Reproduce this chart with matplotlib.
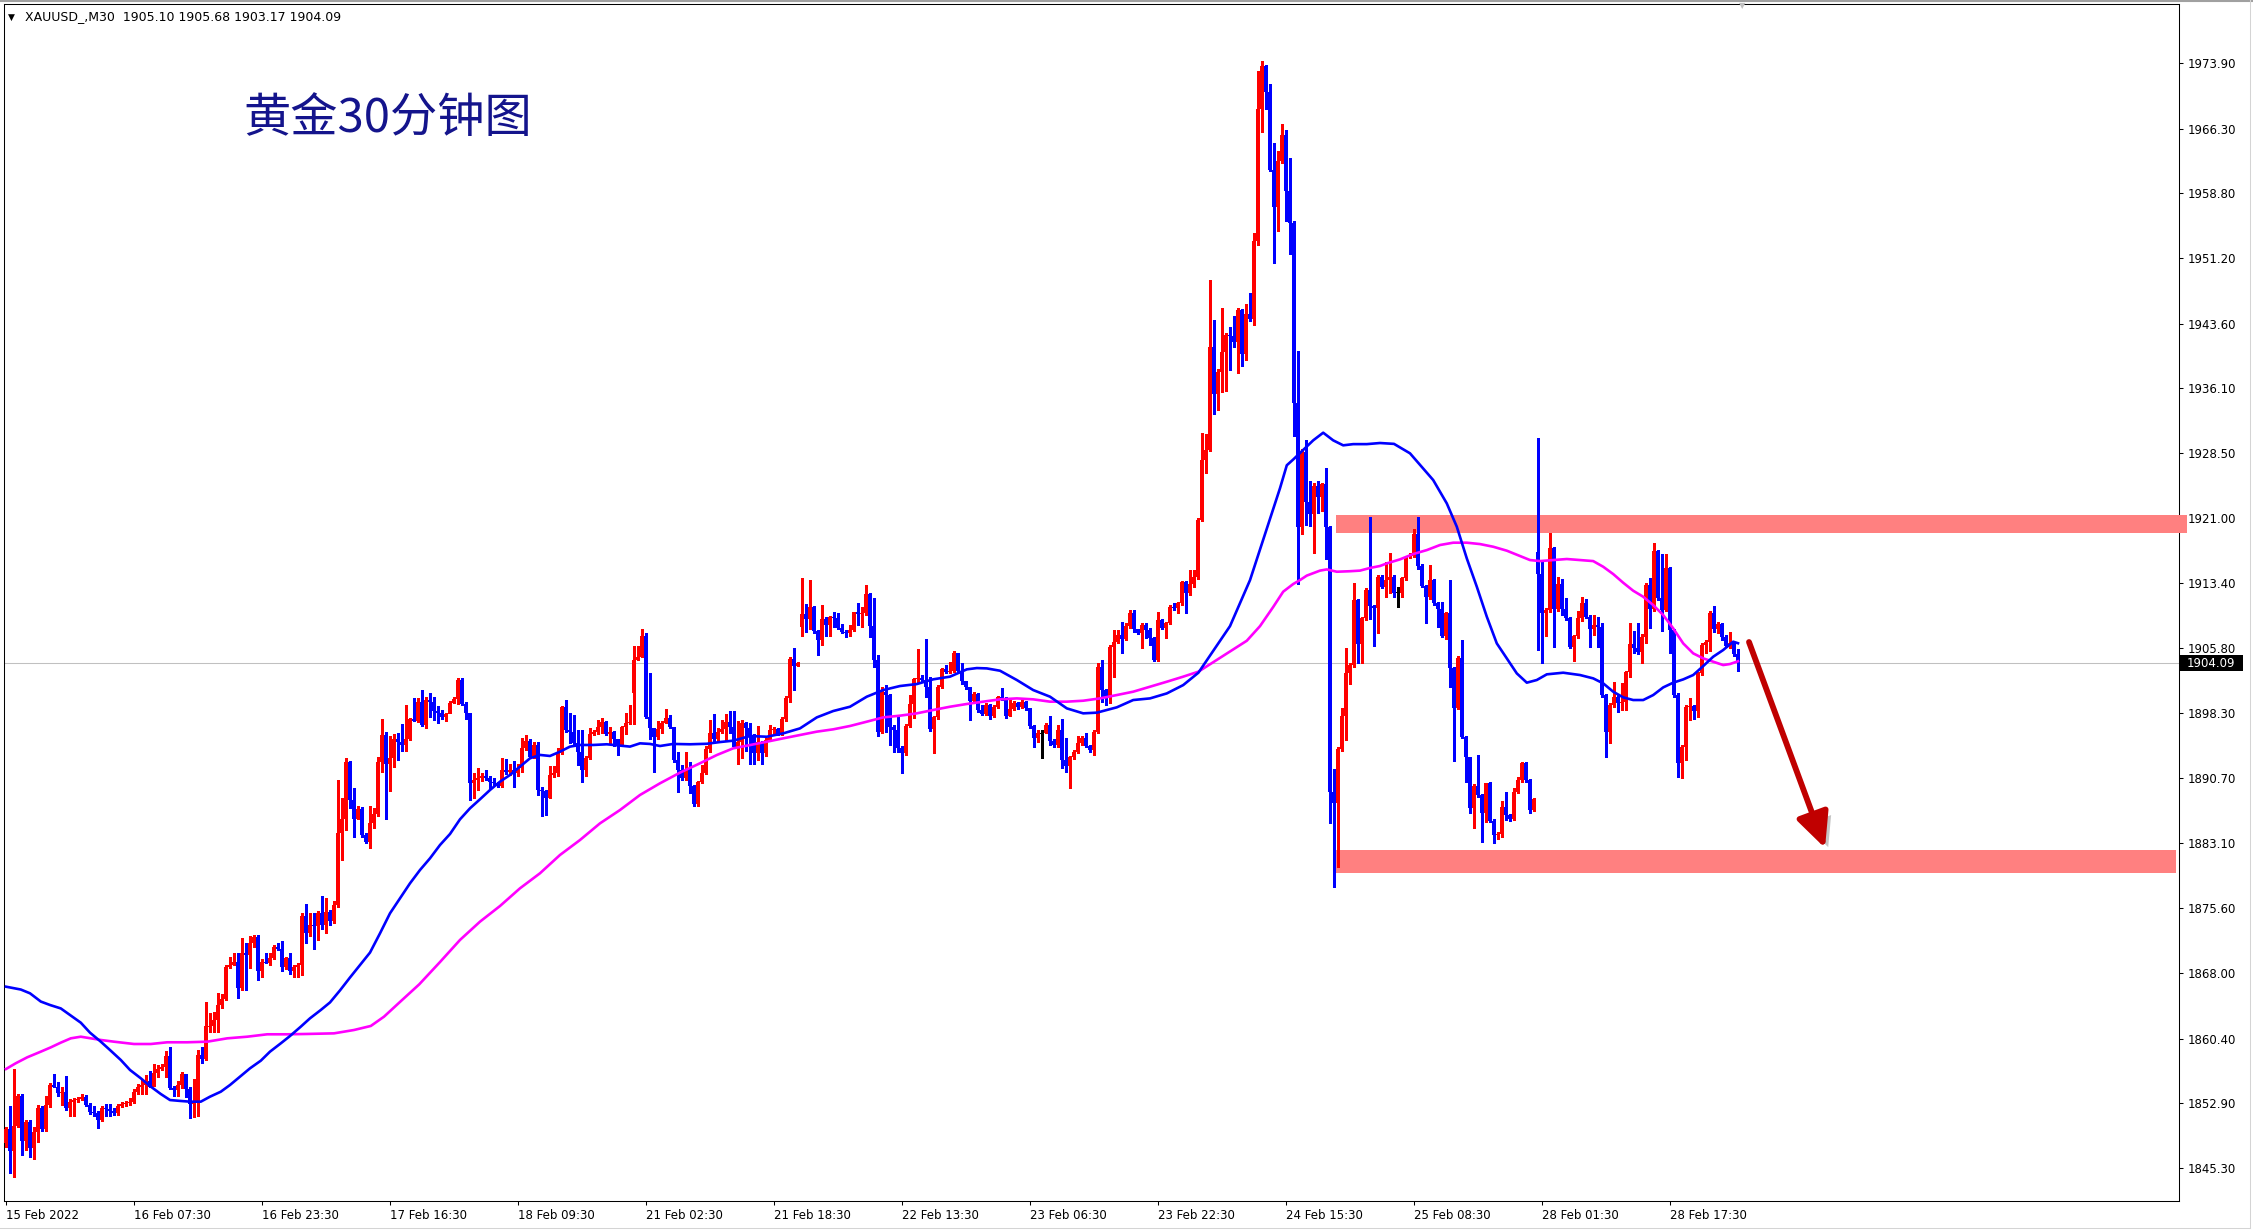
import matplotlib
matplotlib.use('Agg')
import matplotlib.pyplot as plt
from matplotlib.patches import Rectangle, FancyArrowPatch
from matplotlib.lines import Line2D
from matplotlib.transforms import blended_transform_factory
import matplotlib.patheffects as pe

# XAUUSD M30 candles, bar 0 = 15 Feb 2022 15:30
first_open = 1848.2
gap_opens = {157: 1900.65, 199: 1908.32, 383: 1917.05}

closes = [
    1849.87, 1847.35, 1850.2, 1853.75, 1848.5, 1850.65, 1847.7, 1849.55, 1852.3, 1849.85,  # 0
    1852.65, 1855.0, 1854.8, 1854.1, 1854.2, 1852.3, 1853.05, 1853.25, 1853.35, 1853.65,  # 10
    1852.65, 1851.8, 1851.7, 1850.9, 1852.3, 1852.15, 1852.0, 1851.7, 1852.55, 1852.75,  # 20
    1852.85, 1853.05, 1854.2, 1854.8, 1855.0, 1855.45, 1854.8, 1856.35, 1856.85, 1857.1,  # 30
    1858.35, 1854.6, 1854.4, 1855.0, 1856.25, 1854.5, 1852.8, 1852.95, 1858.5, 1858.0,  # 40
    1861.8, 1861.9, 1862.55, 1864.3, 1864.95, 1868.7, 1868.95, 1869.25, 1866.25, 1870.3,  # 50
    1870.1, 1871.5, 1872.2, 1868.3, 1869.35, 1869.2, 1869.75, 1871.1, 1870.8, 1868.7,  # 60
    1869.75, 1868.3, 1868.75, 1868.95, 1874.6, 1872.65, 1873.6, 1873.5, 1874.97, 1873.6,  # 70
    1875.1, 1874.1, 1875.9, 1884.3, 1886.0, 1892.6, 1888.2, 1886.0, 1887.1, 1884.1,  # 80
    1883.3, 1885.45, 1886.5, 1892.6, 1895.7, 1892.4, 1893.1, 1895.3, 1894.95, 1894.55,  # 90
    1895.3, 1897.55, 1897.4, 1899.6, 1896.9, 1899.8, 1899.6, 1898.55, 1898.3, 1897.8,  # 100
    1898.2, 1899.4, 1899.9, 1902.1, 1899.3, 1898.25, 1890.1, 1890.5, 1890.7, 1890.95,  # 110
    1890.7, 1890.2, 1890.1, 1889.8, 1891.6, 1891.45, 1891.7, 1891.25, 1891.85, 1894.2,  # 120
    1895.0, 1893.2, 1894.55, 1889.3, 1889.25, 1888.35, 1891.05, 1891.25, 1893.6, 1899.0,  # 130
    1896.3, 1896.1, 1894.75, 1893.8, 1891.6, 1893.0, 1895.85, 1896.1, 1896.6, 1897.2,  # 140
    1895.85, 1896.1, 1895.2, 1894.55, 1896.7, 1897.1, 1897.15, 1904.5, 1904.75, 1907.25,  # 150
    1897.85, 1896.5, 1895.45, 1896.4, 1897.15, 1897.65, 1896.7, 1892.8, 1891.65, 1890.7,  # 160
    1891.6, 1889.8, 1887.7, 1890.2, 1891.35, 1894.05, 1895.9, 1895.2, 1896.1, 1896.4,  # 170
    1897.2, 1896.7, 1894.36, 1894.94, 1897.07, 1896.5, 1895.6, 1893.66, 1894.86, 1893.58,  # 180
    1895.13, 1896.3, 1896.38, 1895.83, 1897.58, 1899.99, 1904.52, 1903.75, 1904.06, 1909.76,  # 190
    1909.2, 1910.57, 1907.82, 1906.77, 1909.2, 1908.5, 1909.41, 1909.37, 1908.21, 1907.74,  # 200
    1907.55, 1907.94, 1909.99, 1909.8, 1909.88, 1912.13, 1908.4, 1904.44, 1896.1, 1900.76,  # 210
    1900.37, 1896.69, 1896.3, 1894.17, 1893.58, 1896.77, 1899.33, 1902.2, 1902.31, 1902.12,  # 220
    1901.26, 1896.38, 1897.77, 1901.34, 1903.36, 1903.09, 1903.2, 1905.22, 1903.2, 1902.04,  # 230
    1901.26, 1899.71, 1900.49, 1898.63, 1898.16, 1899.21, 1897.93, 1899.01, 1900.18, 1899.98,  # 240
    1897.93, 1898.7, 1899.48, 1899.01, 1899.6, 1898.82, 1896.77, 1895.33, 1895.91, 1895.91,  # 250
    1896.88, 1895.06, 1894.55, 1896.3, 1892.81, 1892.11, 1893.12, 1893.78, 1894.75, 1895.33,  # 260
    1894.44, 1893.97, 1896.11, 1903.67, 1900.95, 1899.98, 1905.92, 1906.58, 1907.35, 1906.93,  # 270
    1908.4, 1909.95, 1908.01, 1907.63, 1908.52, 1907.94, 1906.97, 1904.44, 1909.1, 1908.13,  # 280
    1908.71, 1910.57, 1910.45, 1911.04, 1913.48, 1912.2, 1913.29, 1914.06, 1920.74, 1927.78,  # 290
    1928.9, 1940.9, 1935.36, 1938.0, 1940.27, 1942.27, 1942.2, 1941.47, 1945.17, 1940.04,  # 300
    1944.7, 1944.14, 1953.2, 1968.57, 1973.57, 1970.58, 1961.44, 1957.21, 1962.56, 1965.54,  # 310
    1958.99, 1955.29, 1934.34, 1919.89, 1928.67, 1922.88, 1921.41, 1924.66, 1923.46, 1924.88,  # 320
    1919.89, 1889.12, 1887.76, 1894.05, 1897.93, 1902.97, 1903.86, 1911.43, 1906.3, 1909.29,  # 330
    1912.59, 1910.73, 1910.46, 1914.14, 1912.98, 1913.75, 1914.14, 1912.28, 1912.28, 1913.95,  # 340
    1916.47, 1916.55, 1919.1, 1915.38, 1913.06, 1911.74, 1913.75, 1911.04, 1910.34, 1907.24,  # 350
    1909.87, 1903.47, 1898.82, 1904.64, 1895.52, 1893.12, 1887.18, 1889.78, 1888.73, 1886.6,  # 360
    1890.09, 1885.75, 1884.08, 1884.2, 1887.3, 1886.41, 1885.9, 1889.12, 1890.48, 1892.5,  # 370
    1890.48, 1886.99, 1888.23, 1914.41, 1909.95, 1910.26, 1917.44, 1910.34, 1913.29, 1910.34,  # 380
    1909.29, 1905.99, 1907.24, 1909.29, 1911.11, 1909.49, 1908.01, 1908.52, 1908.32, 1900.37,  # 390
    1896.1, 1899.21, 1900.18, 1899.48, 1899.6, 1903.09, 1906.3, 1905.8, 1905.41, 1907.16,  # 400
    1913.17, 1910.34, 1917.17, 1911.62, 1910.26, 1915.11, 1907.94, 1900.37, 1892.42, 1894.36,  # 410
    1899.01, 1899.09, 1898.55, 1902.89, 1906.19, 1906.58, 1909.87, 1908.01, 1908.63, 1907.16,  # 420
    1906.07, 1906.46, 1905.1, 1904.09,  # 430
]

highs = [
    1850.1, 1852.5, 1856.9, 1854.0, 1854.0, 1850.9, 1850.9, 1850.1, 1852.65, 1852.5,
    1853.75, 1855.2, 1856.3, 1855.3, 1854.8, 1856.05, 1853.4, 1853.5, 1853.6, 1854.0,
    1853.8, 1852.9, 1852.6, 1852.0, 1852.5, 1852.75, 1852.75, 1852.3, 1852.8, 1853.0,
    1853.1, 1853.5, 1854.5, 1855.05, 1855.6, 1856.15, 1856.6, 1857.4, 1857.3, 1857.4,
    1858.9, 1859.45, 1854.9, 1855.4, 1856.5, 1856.3, 1854.8, 1855.7, 1859.05, 1859.4,
    1864.7, 1863.4, 1863.5, 1865.7, 1865.6, 1869.0, 1869.9, 1870.3, 1870.3, 1872.05,
    1871.5, 1872.3, 1872.4, 1872.4, 1869.6, 1870.3, 1870.3, 1871.3, 1871.5, 1871.7,
    1869.9, 1870.3, 1869.0, 1869.2, 1875.0, 1876.1, 1874.97, 1875.0, 1875.2, 1877.0,
    1876.7, 1875.3, 1876.45, 1890.5, 1888.35, 1893.1, 1892.7, 1889.5, 1887.4, 1887.3,
    1884.3, 1887.45, 1887.2, 1893.2, 1897.55, 1896.1, 1895.6, 1895.8, 1895.9, 1897.0,
    1899.2, 1897.7, 1900.0, 1900.0, 1900.96, 1900.1, 1900.6, 1900.2, 1899.1, 1898.6,
    1898.3, 1899.7, 1900.1, 1902.3, 1902.3, 1899.6, 1898.3, 1891.3, 1891.85, 1891.3,
    1891.65, 1891.0, 1890.7, 1890.3, 1893.1, 1892.9, 1892.4, 1892.7, 1892.35, 1895.35,
    1895.7, 1895.2, 1894.95, 1894.95, 1889.7, 1889.3, 1892.1, 1892.1, 1894.2, 1899.1,
    1899.8, 1898.25, 1898.05, 1896.3, 1896.3, 1893.3, 1896.5, 1896.3, 1897.5, 1897.65,
    1897.3, 1896.7, 1896.2, 1895.3, 1896.8, 1898.25, 1899.2, 1906.1, 1906.1, 1908.0,
    1907.55, 1902.9, 1896.5, 1897.4, 1897.4, 1898.8, 1898.05, 1896.7, 1893.7, 1892.2,
    1893.7, 1892.6, 1889.9, 1890.4, 1892.2, 1894.4, 1897.5, 1898.2, 1896.5, 1897.5,
    1898.2, 1898.5, 1898.5, 1897.3, 1897.46, 1897.27, 1897.15, 1895.8, 1896.77, 1895.0,
    1895.4, 1896.9, 1896.7, 1896.5, 1897.8, 1900.3, 1904.75, 1905.8, 1904.2, 1913.95,
    1910.96, 1913.75, 1910.77, 1907.9, 1910.85, 1909.5, 1909.6, 1910.07, 1909.95, 1908.6,
    1907.9, 1908.52, 1910.07, 1911.04, 1910.65, 1913.17, 1912.2, 1911.62, 1905.0, 1901.34,
    1901.5, 1900.5, 1896.9, 1897.85, 1894.4, 1897.0, 1900.37, 1902.39, 1905.72, 1902.7,
    1906.85, 1902.5, 1897.9, 1901.5, 1903.55, 1903.86, 1904.25, 1905.53, 1905.3, 1904.06,
    1902.04, 1901.3, 1900.7, 1900.57, 1899.2, 1899.4, 1899.3, 1899.2, 1900.26, 1901.15,
    1900.1, 1899.87, 1899.7, 1899.6, 1899.8, 1899.7, 1898.9, 1896.9, 1896.3, 1896.3,
    1897.15, 1897.97, 1895.2, 1896.88, 1897.54, 1895.33, 1893.3, 1894.0, 1895.6, 1895.6,
    1895.91, 1894.6, 1896.3, 1904.13, 1904.44, 1901.1, 1906.2, 1907.94, 1907.94, 1908.91,
    1908.71, 1910.26, 1910.26, 1908.1, 1908.7, 1908.71, 1908.13, 1907.1, 1910.07, 1909.18,
    1908.9, 1910.8, 1911.04, 1911.2, 1913.6, 1913.6, 1914.92, 1914.92, 1921.0, 1930.9,
    1930.7, 1948.7, 1944.05, 1938.3, 1945.4, 1942.5, 1943.2, 1944.5, 1945.4, 1945.3,
    1945.9, 1947.2, 1954.1, 1973.03, 1974.15, 1973.7, 1971.47, 1964.65, 1963.67, 1966.88,
    1966.12, 1962.87, 1955.5, 1940.4, 1929.0, 1930.0, 1925.33, 1925.0, 1925.33, 1925.1,
    1926.76, 1920.0, 1891.8, 1894.3, 1898.82, 1905.8, 1904.1, 1913.37, 1911.6, 1909.5,
    1912.78, 1921.12, 1910.9, 1914.3, 1914.3, 1915.9, 1916.93, 1914.3, 1912.9, 1914.1,
    1916.6, 1916.86, 1919.65, 1921.05, 1915.6, 1913.2, 1915.5, 1913.9, 1911.23, 1911.23,
    1910.0, 1913.75, 1903.6, 1904.91, 1906.77, 1895.6, 1893.2, 1890.0, 1893.39, 1888.9,
    1890.17, 1890.28, 1885.9, 1884.4, 1888.07, 1889.12, 1886.5, 1889.51, 1890.87, 1892.61,
    1892.6, 1890.6, 1888.4, 1930.28, 1916.1, 1910.5, 1919.18, 1917.6, 1914.14, 1913.83,
    1911.62, 1909.4, 1907.4, 1910.2, 1911.74, 1911.5, 1909.7, 1909.68, 1909.49, 1908.7,
    1900.5, 1899.4, 1901.92, 1900.4, 1901.73, 1903.2, 1908.79, 1907.86, 1908.7, 1907.47,
    1913.4, 1913.95, 1918.1, 1917.3, 1916.78, 1916.78, 1915.3, 1908.1, 1900.6, 1894.6,
    1899.2, 1899.98, 1899.2, 1903.1, 1906.4, 1906.77, 1910.1, 1910.73, 1908.9, 1908.71,
    1907.4, 1907.74, 1906.6, 1905.68,
]

lows = [
    1847.8, 1844.7, 1844.3, 1850.1, 1846.85, 1847.4, 1846.65, 1846.35, 1848.3, 1849.6,
    1849.6, 1852.4, 1854.7, 1853.75, 1852.65, 1852.1, 1851.4, 1851.4, 1853.0, 1853.2,
    1852.5, 1851.6, 1851.4, 1850.0, 1850.8, 1851.4, 1851.4, 1851.5, 1851.5, 1852.4,
    1852.6, 1852.7, 1852.9, 1853.95, 1853.95, 1853.9, 1854.7, 1854.9, 1855.9, 1856.7,
    1855.9, 1854.5, 1853.75, 1853.75, 1854.6, 1853.55, 1851.2, 1851.3, 1851.4, 1857.5,
    1857.9, 1861.2, 1861.2, 1861.2, 1864.0, 1864.9, 1868.6, 1868.9, 1865.1, 1866.0,
    1866.0, 1868.6, 1871.0, 1867.2, 1867.6, 1869.15, 1868.95, 1869.7, 1870.7, 1868.2,
    1868.5, 1867.9, 1867.6, 1867.6, 1867.8, 1871.5, 1872.3, 1870.8, 1871.9, 1873.2,
    1872.7, 1873.6, 1873.9, 1875.7, 1881.2, 1884.7, 1887.2, 1883.9, 1885.9, 1883.9,
    1883.1, 1882.6, 1884.9, 1886.3, 1891.45, 1885.9, 1889.25, 1892.0, 1892.8, 1893.9,
    1893.9, 1895.1, 1897.3, 1897.2, 1896.8, 1896.5, 1897.85, 1897.5, 1897.1, 1897.55,
    1897.3, 1898.3, 1899.4, 1899.3, 1899.2, 1897.55, 1888.1, 1888.35, 1889.3, 1890.4,
    1890.5, 1889.4, 1889.9, 1889.7, 1889.7, 1891.2, 1891.1, 1889.7, 1890.9, 1891.4,
    1894.0, 1893.0, 1893.1, 1888.75, 1886.3, 1886.4, 1888.4, 1890.8, 1890.9, 1893.5,
    1896.1, 1894.75, 1894.4, 1892.2, 1890.2, 1890.9, 1892.9, 1895.7, 1895.8, 1895.9,
    1895.7, 1894.8, 1894.4, 1893.4, 1894.4, 1895.85, 1897.0, 1897.0, 1904.4, 1904.75,
    1897.7, 1895.3, 1891.45, 1895.3, 1895.9, 1897.1, 1896.5, 1892.6, 1889.1, 1890.5,
    1890.5, 1888.95, 1887.5, 1887.4, 1890.1, 1891.2, 1893.7, 1894.9, 1895.0, 1896.0,
    1895.1, 1895.9, 1894.2, 1892.3, 1893.0, 1893.86, 1892.3, 1892.3, 1892.8, 1892.3,
    1893.3, 1895.1, 1896.0, 1895.7, 1895.7, 1897.4, 1899.6, 1900.95, 1903.7, 1907.2,
    1907.74, 1908.05, 1907.63, 1905.03, 1906.2, 1907.24, 1907.24, 1908.32, 1908.01, 1907.6,
    1907.08, 1907.24, 1907.8, 1908.52, 1908.32, 1909.7, 1907.16, 1903.67, 1895.64, 1896.0,
    1896.1, 1894.55, 1893.78, 1893.8, 1891.26, 1893.4, 1896.6, 1897.66, 1901.9, 1901.9,
    1900.18, 1896.2, 1893.66, 1897.6, 1901.2, 1902.9, 1902.9, 1903.0, 1903.0, 1901.6,
    1901.1, 1897.46, 1899.5, 1898.4, 1898.0, 1898.0, 1897.54, 1897.8, 1898.9, 1899.8,
    1897.7, 1897.9, 1898.63, 1898.8, 1898.9, 1898.6, 1896.5, 1894.36, 1894.94, 1893.0,
    1895.9, 1894.55, 1894.3, 1894.36, 1891.84, 1891.45, 1889.51, 1892.9, 1893.6, 1894.6,
    1894.3, 1893.78, 1893.39, 1895.9, 1899.6, 1899.21, 1899.4, 1902.5, 1906.4, 1905.22,
    1906.8, 1908.2, 1907.74, 1907.5, 1905.8, 1906.97, 1906.19, 1904.3, 1904.3, 1908.0,
    1906.97, 1908.6, 1910.3, 1909.95, 1910.9, 1909.88, 1912.0, 1912.98, 1913.9, 1920.6,
    1926.2, 1928.8, 1933.1, 1933.6, 1935.6, 1935.7, 1938.2, 1940.9, 1937.8, 1938.7,
    1939.4, 1943.9, 1943.4, 1952.75, 1965.9, 1968.57, 1961.3, 1950.65, 1954.4, 1962.3,
    1955.56, 1951.72, 1930.46, 1913.3, 1919.1, 1920.2, 1920.07, 1916.86, 1921.54, 1921.8,
    1916.2, 1885.44, 1878.07, 1880.4, 1893.9, 1895.1, 1901.7, 1903.6, 1904.06, 1904.06,
    1909.1, 1909.18, 1906.07, 1907.62, 1912.8, 1911.8, 1912.3, 1911.74, 1910.65, 1911.74,
    1913.8, 1916.3, 1916.4, 1914.99, 1912.9, 1908.79, 1911.6, 1910.9, 1908.24, 1907.1,
    1906.85, 1901.34, 1892.73, 1898.7, 1895.4, 1890.28, 1886.6, 1884.86, 1888.5, 1883.3,
    1885.63, 1885.6, 1883.19, 1883.57, 1883.9, 1885.82, 1885.7, 1885.8, 1889.0, 1890.3,
    1890.3, 1886.6, 1886.9, 1905.6, 1904.13, 1907.24, 1910.0, 1906.0, 1910.2, 1909.68,
    1909.1, 1905.8, 1904.37, 1907.0, 1909.0, 1909.3, 1905.99, 1907.35, 1905.99, 1900.2,
    1893.2, 1894.75, 1899.0, 1898.43, 1898.63, 1898.6, 1902.5, 1905.22, 1905.2, 1904.13,
    1906.38, 1908.13, 1910.2, 1911.4, 1907.86, 1910.1, 1905.22, 1900.2, 1890.87, 1890.67,
    1892.81, 1897.46, 1897.54, 1897.77, 1902.7, 1905.22, 1905.5, 1907.74, 1907.62, 1906.77,
    1906.0, 1905.9, 1904.9, 1903.17,
]

# moving averages (bar position, price)
ma_blue_bars = [
    0, 3.7, 6, 8.7, 11, 13.7, 16, 18.7, 21, 23.7, 26, 28.7, 31, 33.7, 36, 38.7,
    41, 43.7, 46, 48.7, 51, 53.7, 56, 58.7, 61, 63.7, 66, 68.7, 71, 73.7, 76, 78.7,
    81, 83.5, 86, 88.5, 91, 93.5, 96, 98.5, 101, 103.5, 106, 108.5, 111, 113.5, 116, 118.5,
    121, 123.5, 126, 128.5, 131, 133.5, 136, 138.5, 141, 143.5, 146.8, 150.2, 153.5, 156,
    158.5, 161, 163.5, 166.8, 171, 175.2, 178.5, 181.8, 186, 190.2, 194.3, 198.5, 202.7, 206.8,
    211, 215.2, 219.3, 223.5, 227.7, 231.8, 236, 240.2, 242.7, 245.2, 248.5, 252.7, 256.8, 261,
    265.2, 269.3, 272.7, 277.7, 281.8, 286, 290.2, 294.3, 298.1, 303.5, 306, 308.5, 311, 313.5,
    316, 318.5, 320.2, 321.8, 324.3, 326.8, 329.3, 331.8, 334.3, 336.8, 340.2, 343.5, 347, 351,
    354, 356.8, 360.2, 362.7, 365.2, 367.7, 370.2, 372.7, 375.2, 377.7, 380.2, 382.7, 385.2, 389.3,
    393.5, 396.8, 399.3, 401.8, 404.3, 406.8, 409.3, 411.8, 414.3, 416.8, 419.3, 421.8, 424.3, 426.8,
    429.3, 431.8, 433,
]
ma_blue_vals = [
    1866.43, 1866.1, 1865.66, 1864.7, 1864.3, 1863.9, 1863.14, 1862.24, 1861.08, 1860.03, 1859.06, 1857.9, 1856.74, 1855.77, 1854.87, 1853.94,
    1853.24, 1853.13, 1853.05, 1853.05, 1853.63, 1854.21, 1854.99, 1856.04, 1856.93, 1857.82, 1858.87, 1859.84, 1860.69, 1861.78, 1862.75, 1863.72,
    1864.6, 1866.0, 1867.5, 1868.96, 1870.4, 1872.64, 1874.97, 1876.72, 1878.46, 1880.01, 1881.37, 1882.92, 1884.2, 1885.91, 1887.19, 1888.24,
    1889.32, 1890.29, 1891.07, 1892.04, 1893.01, 1893.4, 1893.28, 1893.78, 1894.37, 1894.56, 1894.56, 1894.64, 1894.48, 1894.37,
    1894.75, 1894.68, 1894.44, 1894.68, 1894.64, 1894.7, 1894.9, 1895.06, 1895.6, 1895.52, 1895.91, 1896.49, 1897.77, 1898.51,
    1899.01, 1900.18, 1900.95, 1901.42, 1901.65, 1902.2, 1902.51, 1903.36, 1903.51, 1903.47, 1903.2, 1902.12, 1900.95, 1900.18,
    1898.82, 1898.24, 1898.32, 1898.94, 1899.79, 1899.98, 1900.56, 1901.53, 1902.97, 1906.69, 1908.39, 1911.06, 1913.74, 1917.31,
    1920.87, 1924.44, 1927.11, 1927.78, 1928.9, 1930.01, 1930.9, 1930.01, 1929.43, 1929.57, 1929.57, 1929.7, 1929.6, 1928.5,
    1926.9, 1925.39, 1922.67, 1919.96, 1916.27, 1912.98, 1909.49, 1906.38, 1904.64, 1902.89, 1901.81, 1902.12, 1902.78, 1902.97,
    1902.7, 1902.31, 1901.73, 1900.76, 1900.1, 1899.79, 1899.79, 1900.37, 1901.26, 1901.81, 1902.19, 1902.7, 1903.74, 1904.83,
    1905.61, 1906.58, 1906.4,
]

ma_pink_bars = [
    0, 2.4, 5.3, 8.7, 11.2, 13.7, 16.2, 18.7, 21.2, 23.7, 27, 32, 36.2, 40.3, 45.3, 50.3,
    55.3, 60.3, 65.3, 70.3, 75.3, 82, 87, 91.2, 94.5, 98.6, 103.3, 108.5, 113.5, 118.5, 123.5, 128.5,
    133.5, 138.5, 143.5, 148.5, 153.5, 158.5, 163.5, 168.5, 173.5, 177.7, 181.8, 186, 190.2, 194.3,
    198.5, 202.7, 206.8, 211, 215.2, 219.3, 223.5, 227.7, 231.8, 236, 240.2, 244.3, 248.5, 252.7,
    256.8, 261, 265.2, 269.3, 273.5, 277.7, 281.8, 286, 290.2, 294.3, 298.1, 310.2, 313.5, 316.8,
    319.3, 321.8, 323.5, 325.2, 328.5, 330.2, 332.7, 336, 338.5, 341, 343.5, 345.2, 348.5, 351.8,
    355.2, 358.5, 361.8, 365.2, 368.5, 371.8, 375.2, 378.5, 381, 383.5, 386.8, 390.2, 393.5, 396.8,
    399.3, 401.8, 404.3, 406.8, 409.3, 411.8, 414.3, 416.8, 419.3, 421.8, 424.3, 426.8, 429.3, 431, 433,
]
ma_pink_vals = [
    1856.85, 1857.51, 1858.21, 1858.87, 1859.37, 1859.92, 1860.42, 1860.61, 1860.42, 1860.23, 1860.03, 1859.76, 1859.76, 1859.96, 1859.96, 1860.03,
    1860.42, 1860.61, 1860.89, 1860.89, 1860.93, 1861.0, 1861.39, 1861.86, 1862.94, 1864.7, 1866.7, 1869.3, 1871.87, 1874.0, 1875.82, 1877.88,
    1879.63, 1881.76, 1883.5, 1885.44, 1886.99, 1888.74, 1890.1, 1891.34, 1892.43, 1893.39, 1894.17, 1894.55, 1894.94, 1895.33,
    1895.72, 1896.11, 1896.38, 1896.77, 1897.27, 1897.77, 1897.97, 1898.24, 1898.63, 1899.01, 1899.33, 1899.6, 1899.87, 1899.98,
    1899.87, 1899.6, 1899.6, 1899.71, 1899.98, 1900.37, 1900.76, 1901.34, 1901.92, 1902.51, 1903.09, 1906.69, 1908.39, 1910.62,
    1912.4, 1913.29, 1913.75, 1914.27, 1914.85, 1914.99, 1914.72, 1914.78, 1914.85, 1915.16, 1915.39, 1915.69, 1916.16, 1916.78,
    1917.24, 1917.83, 1918.1, 1918.1, 1917.94, 1917.63, 1917.17, 1916.55, 1916.08, 1915.96, 1916.08, 1916.2, 1916.08, 1915.96,
    1915.3, 1914.45, 1913.44, 1912.51, 1911.81, 1910.84, 1909.68, 1908.13, 1906.38, 1905.22, 1904.64, 1904.25, 1903.86, 1903.98, 1904.3,
]

ytick_vals = [1973.90, 1966.30, 1958.80, 1951.20, 1943.60, 1936.10, 1928.50, 1921.00, 1913.40,
              1905.80, 1898.30, 1890.70, 1883.10, 1875.60, 1868.00, 1860.40, 1852.90, 1845.30]
xtick_bars = [0, 32, 64, 96, 128, 160, 192, 224, 256, 288, 320, 352, 384, 416]
xtick_labels = ['15 Feb 2022', '16 Feb 07:30', '16 Feb 23:30', '17 Feb 16:30', '18 Feb 09:30',
                '21 Feb 02:30', '21 Feb 18:30', '22 Feb 13:30', '23 Feb 06:30', '23 Feb 22:30',
                '24 Feb 15:30', '25 Feb 08:30', '28 Feb 01:30', '28 Feb 17:30']

last_price = 1904.09
resistance = (1919.2, 1921.3)
support = (1879.65, 1882.35)

assert len(closes) == len(highs) == len(lows)

plt.rcParams['font.family'] = ['DejaVu Sans']

W, H = 2253, 1232
fig = plt.figure(figsize=(W / 100, H / 100), dpi=100)
fig.patch.set_facecolor('white')
ax = fig.add_axes([4 / W, 1 - 1201 / H, 2175 / W, 1197 / H])

n = len(closes)
opens = [first_open] + closes[:-1]
for i, v in gap_opens.items():
    opens[i] = v
xs = list(range(n))

colors = []
for o, c in zip(opens, closes):
    if c > o:
        colors.append('#FF0000')
    elif c < o:
        colors.append('#0000FF')
    else:
        colors.append('#000000')

min_h = 0.12
bottoms = []
heights = []
for o, c in zip(opens, closes):
    h = abs(c - o)
    if h < min_h:
        bottoms.append(min(o, c) - (min_h - h) / 2)
        heights.append(min_h)
    else:
        bottoms.append(min(o, c))
        heights.append(h)

ax.vlines(xs, lows, highs, colors=colors, lw=0.75, zorder=3, antialiased=False)
ax.bar(xs, heights, bottom=bottoms, width=0.78, color=colors, lw=0, zorder=3.1, antialiased=False)

ax.plot(ma_pink_bars, ma_pink_vals, color='#FF00FF', lw=1.9, zorder=4)
ax.plot(ma_blue_bars, ma_blue_vals, color='#0000FF', lw=1.9, zorder=4.1)

ax.axhline(last_price, color='#C0C0C0', lw=0.75, zorder=1)

# zones
ax.add_patch(Rectangle((332.5, resistance[0]), 545.25 - 332.5, resistance[1] - resistance[0],
                       facecolor='#FF8080', lw=0, zorder=2.6, clip_on=False))
ax.add_patch(Rectangle((332.25, support[0]), 542.5 - 332.25, support[1] - support[0],
                       facecolor='#FF8080', lw=0, zorder=2.6, clip_on=False))

# arrow
arr = FancyArrowPatch((435.75, 1906.54), (454.75, 1882.57),
                      arrowstyle='-|>,head_length=1.05,head_width=0.5', mutation_scale=20,
                      lw=4.2, color='#C00000', shrinkA=0, shrinkB=0, zorder=6, clip_on=False,
                      path_effects=[pe.SimplePatchShadow(offset=(4, -4), shadow_rgbFace='#808080', alpha=0.45),
                                    pe.Normal()])
ax.add_patch(arr)

ax.set_xlim(-0.5, 543.25)
ax.set_ylim(1841.49, 1980.79)

ax.yaxis.tick_right()
ax.set_yticks(ytick_vals)
ax.set_yticklabels([f'{v:.2f}' for v in ytick_vals])
ax.tick_params(axis='y', length=3, width=0.75, pad=3, labelsize=8.5, direction='out')
ax.set_xticks(xtick_bars)
ax.set_xticklabels(xtick_labels)
for lbl in ax.get_xticklabels():
    lbl.set_horizontalalignment('left')
ax.tick_params(axis='x', length=3, width=0.75, pad=3, labelsize=8.5, direction='out')
for s in ax.spines.values():
    s.set_linewidth(0.75)
    s.set_color('black')

# current price tag
tr = blended_transform_factory(ax.transAxes, ax.transData)
ax.add_patch(Rectangle((1 + 1 / 2175, last_price - 0.93), 63 / 2175, 1.86, transform=tr,
                       facecolor='black', lw=0, clip_on=False, zorder=5))
ax.text(1 + 8 / 2175, last_price, f'{last_price:.2f}', transform=tr, color='white', fontsize=8.5,
        va='center', ha='left', zorder=6, clip_on=False)

# header and title
fig.text(8 / W, 1 - 17 / H, '▼', fontsize=6.5, va='center', ha='left')
fig.text(25 / W, 1 - 17 / H, 'XAUUSD_,M30  1905.10 1905.68 1903.17 1904.09', fontsize=9,
         va='center', ha='left')
fig.text(243 / W, 1 - 119 / H, '黄金30分钟图', fontsize=34, color='#14148C',
         family=['Noto Sans CJK SC', 'DejaVu Sans'], va='center', ha='left')
fig.text(1742 / W, 1 - 6 / H, '▼', fontsize=6, color='#C0C0C0', va='center', ha='center')

# window frame
fig.add_artist(Line2D([0, 1], [1 - 1 / H, 1 - 1 / H], color='#A0A0A0', lw=1.5))
fig.add_artist(Line2D([2250 / W, 2250 / W], [1 - 1228 / H, 1], color='#D4D4D4', lw=0.75))
fig.add_artist(Line2D([0, 2250 / W], [1 - 1228 / H, 1 - 1228 / H], color='#D4D4D4', lw=0.75))

fig.savefig('out.png', dpi=100, facecolor='white')
